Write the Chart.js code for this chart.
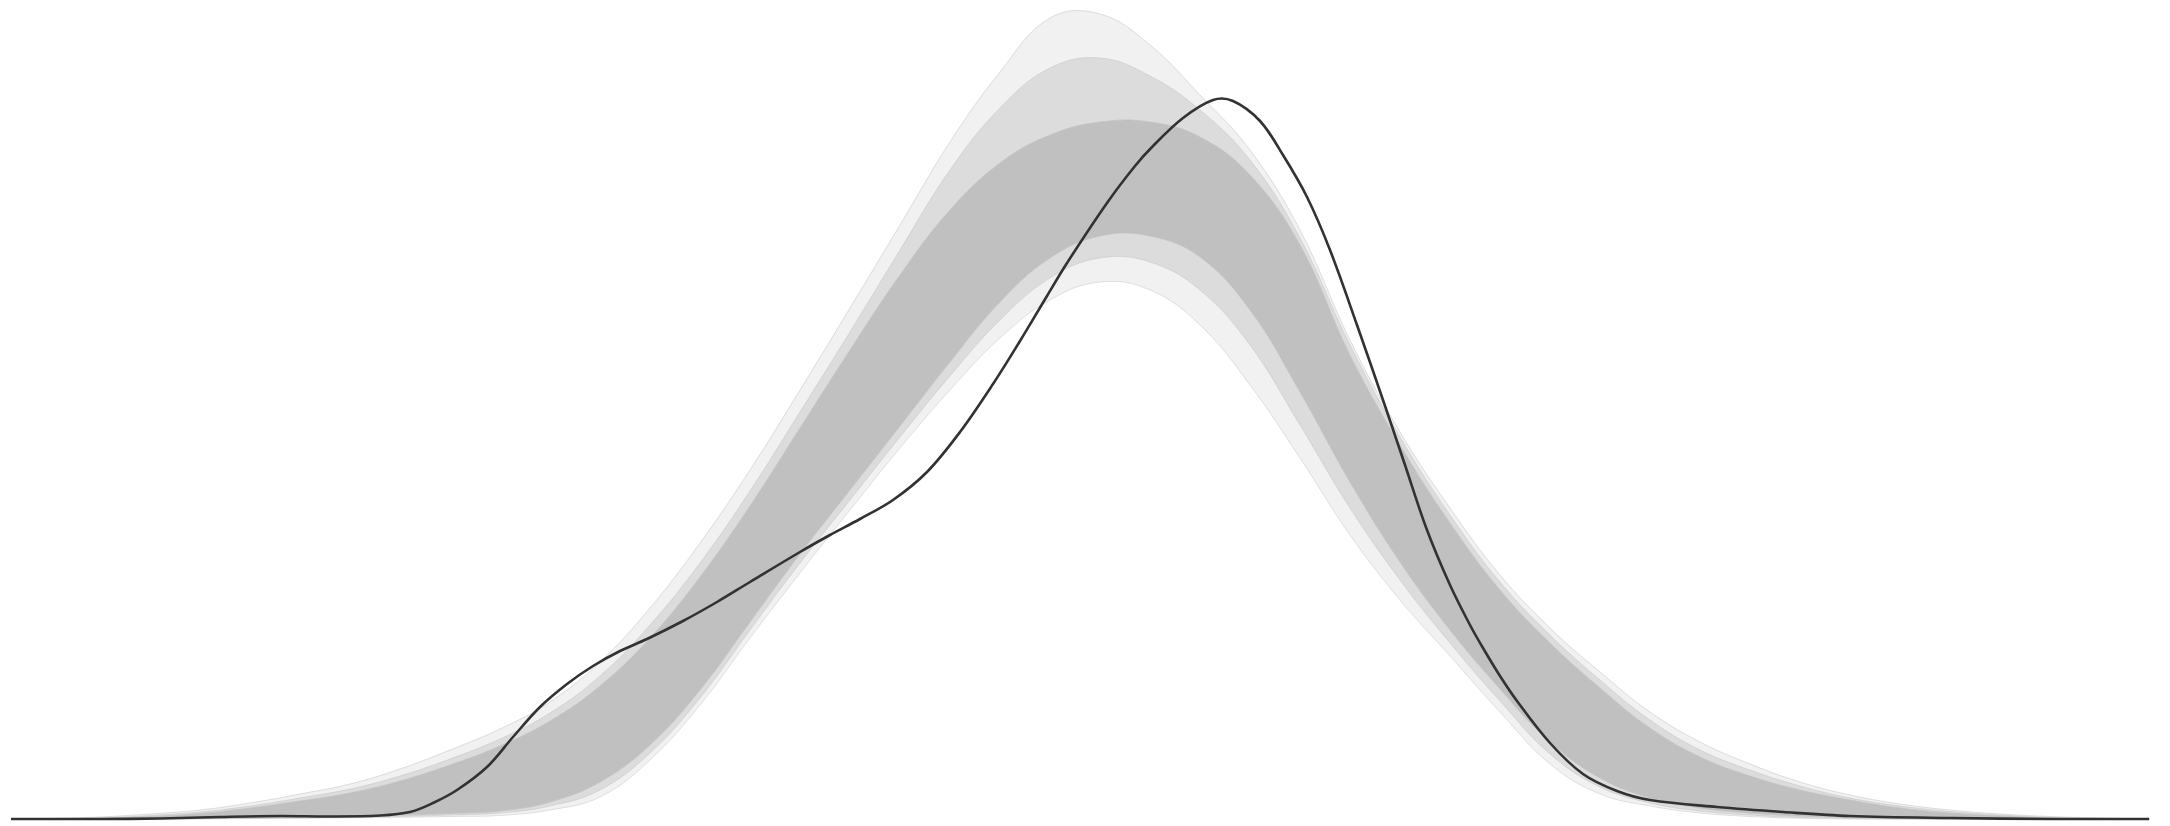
<!DOCTYPE html>
<html>
<head>
<meta charset="utf-8">
<style>
  html, body { margin: 0; padding: 0; background: #ffffff; }
  #wrap { width: 2170px; height: 826px; position: relative; }
</style>
<script src="https://cdn.jsdelivr.net/npm/chart.js@4/dist/chart.umd.min.js"></script>
</head>
<body>
<div id="wrap"><canvas id="ppc"></canvas></div>
<script>
// Observed density (dark curve): x positions and density values
const obsX = [0.11, 1.00, 1.60, 2.20, 2.80, 3.30, 3.80, 4.10, 4.33, 4.57, 4.87, 5.13, 5.40, 5.67, 5.93, 6.20, 6.47, 6.83, 7.17, 7.50, 8.00, 8.30, 8.60, 8.93, 9.27, 9.60, 9.93, 10.20, 10.47, 10.67, 11.07, 11.35, 11.53, 11.83, 12.13, 12.33, 12.60, 12.83, 13.07, 13.30, 13.57, 13.83, 14.05, 14.27, 14.50, 14.70, 14.83, 15.00, 15.17, 15.50, 15.83, 16.17, 16.50, 17.17, 17.83, 18.50, 19.50, 20.50, 21.49];
const obsY = [0, 0, 0.0005, 0.002, 0.003, 0.0025, 0.0035, 0.007, 0.016, 0.029, 0.052, 0.082, 0.112, 0.135, 0.153, 0.168, 0.180, 0.198, 0.217, 0.237, 0.267, 0.284, 0.300, 0.319, 0.347, 0.387, 0.435, 0.478, 0.523, 0.556, 0.616, 0.653, 0.673, 0.701, 0.719, 0.718, 0.698, 0.664, 0.622, 0.569, 0.494, 0.419, 0.354, 0.289, 0.234, 0.194, 0.171, 0.143, 0.118, 0.076, 0.045, 0.028, 0.019, 0.012, 0.007, 0.003, 0.001, 0, 0];

// Replicated densities summarised as nested envelopes on a shared grid
const gridX = [0.11, 0.5, 1.0, 1.5, 2.0, 2.5, 3.0, 3.5, 4.0, 4.5, 5.0, 5.5, 6.0, 6.5, 7.0, 7.5, 8.0, 8.5, 9.0, 9.5, 10.0, 10.5, 11.0, 11.5, 12.0, 12.5, 13.0, 13.5, 14.0, 14.5, 15.0, 15.5, 16.0, 16.5, 17.0, 17.5, 18.0, 18.5, 19.0, 19.5, 20.0, 20.5, 21.0, 21.5];
const repOuterHigh = [0, 0.0005, 0.002, 0.005, 0.009, 0.016, 0.025, 0.035, 0.050, 0.069, 0.090, 0.117, 0.157, 0.211, 0.276, 0.349, 0.429, 0.511, 0.594, 0.677, 0.747, 0.801, 0.805, 0.774, 0.724, 0.669, 0.589, 0.479, 0.387, 0.311, 0.244, 0.191, 0.147, 0.107, 0.077, 0.055, 0.037, 0.024, 0.015, 0.009, 0.005, 0.0025, 0.001, 0];
const repMidHigh   = [0, 0.0003, 0.001, 0.0035, 0.007, 0.013, 0.021, 0.030, 0.043, 0.060, 0.080, 0.106, 0.143, 0.194, 0.256, 0.328, 0.407, 0.487, 0.569, 0.649, 0.711, 0.751, 0.761, 0.743, 0.709, 0.659, 0.581, 0.474, 0.382, 0.304, 0.237, 0.184, 0.139, 0.099, 0.069, 0.049, 0.033, 0.021, 0.013, 0.0075, 0.004, 0.0015, 0.0005, 0];
const repCoreHigh  = [0, 0, 0.0005, 0.0025, 0.0055, 0.011, 0.018, 0.026, 0.038, 0.054, 0.073, 0.098, 0.133, 0.181, 0.242, 0.313, 0.391, 0.469, 0.544, 0.609, 0.656, 0.684, 0.697, 0.697, 0.682, 0.644, 0.574, 0.464, 0.374, 0.296, 0.229, 0.176, 0.131, 0.091, 0.062, 0.043, 0.029, 0.019, 0.011, 0.006, 0.003, 0.001, 0, 0];
const repCoreLow   = [0, 0, 0, 0.0003, 0.0006, 0.0012, 0.002, 0.003, 0.004, 0.0055, 0.008, 0.017, 0.037, 0.074, 0.129, 0.197, 0.265, 0.329, 0.393, 0.457, 0.517, 0.561, 0.583, 0.583, 0.562, 0.509, 0.427, 0.337, 0.257, 0.189, 0.130, 0.077, 0.041, 0.021, 0.011, 0.006, 0.003, 0.0015, 0.0005, 0, 0, 0, 0, 0];
const repMidLow    = [0, 0, 0, 0.0001, 0.0003, 0.0007, 0.0012, 0.002, 0.0027, 0.004, 0.006, 0.013, 0.029, 0.066, 0.121, 0.189, 0.256, 0.319, 0.382, 0.443, 0.499, 0.541, 0.561, 0.557, 0.529, 0.474, 0.394, 0.311, 0.239, 0.176, 0.118, 0.065, 0.032, 0.016, 0.008, 0.004, 0.0015, 0.0005, 0, 0, 0, 0, 0, 0];
const repOuterLow  = [0, 0, 0, 0, 0.0001, 0.0004, 0.0007, 0.0012, 0.0017, 0.0025, 0.0035, 0.009, 0.022, 0.059, 0.114, 0.181, 0.246, 0.309, 0.371, 0.429, 0.481, 0.519, 0.537, 0.529, 0.494, 0.434, 0.361, 0.284, 0.219, 0.163, 0.107, 0.055, 0.025, 0.013, 0.006, 0.0025, 0.0007, 0, 0, 0, 0, 0, 0, 0];

const toPoints = (xs, ys) => xs.map((x, i) => ({ x: x, y: ys[i] }));

const GREY = '192,192,192';
function band(values, fillAlpha, lineAlpha, order) {
  return {
    data: toPoints(gridX, values),
    borderColor: 'rgba(' + GREY + ',' + lineAlpha + ')',
    borderWidth: 1,
    backgroundColor: 'rgba(' + GREY + ',' + fillAlpha + ')',
    fill: fillAlpha > 0 ? '+1' : false,
    pointRadius: 0,
    tension: 0.4,
    order: order
  };
}

const datasets = [
  band(repOuterHigh, 0.22, 0.5, 6),
  band(repMidHigh, 0.55, 0.5, 5),
  band(repCoreHigh, 1, 0.8, 4),
  band(repCoreLow, 0.55, 0.8, 3),
  band(repMidLow, 0.22, 0.5, 2),
  band(repOuterLow, 0, 0.45, 1),
  {
    data: toPoints(obsX, obsY),
    borderColor: '#323232',
    borderWidth: 2.6,
    fill: false,
    pointRadius: 0,
    tension: 0.35,
    order: 0
  }
];

new Chart(document.getElementById('ppc'), {
  type: 'line',
  data: { datasets: datasets },
  options: {
    responsive: true,
    maintainAspectRatio: false,
    animation: false,
    layout: { padding: 0 },
    plugins: { legend: { display: false }, tooltip: { enabled: false } },
    scales: {
      x: { type: 'linear', min: 0, max: 21.7, display: false },
      y: { type: 'linear', min: -0.007, max: 0.819, display: false }
    }
  }
});
</script>
</body>
</html>
